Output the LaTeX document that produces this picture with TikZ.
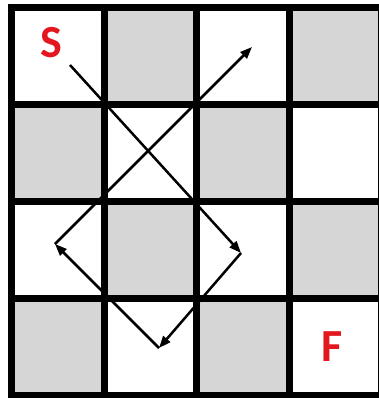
\documentclass[tikz,border=0pt]{standalone}
\usepackage{fontspec}
\setsansfont{Carlito}
\usetikzlibrary{arrows.meta}
\definecolor{cellgray}{RGB}{214,214,214}
\definecolor{markred}{RGB}{226,24,30}

\begin{document}
\begin{tikzpicture}[x=1pt, y=-1pt,
  letter/.style={text=markred, font=\sffamily\bfseries\fontsize{46}{46}\selectfont, inner sep=0pt},
  gridline/.style={line width=7pt, line cap=rect},
  move/.style={line width=2.5pt, -{Triangle[length=12pt,width=9pt]}}]
  \useasboundingbox (0,0) rectangle (378,398);
  % shaded cells
  \foreach \r in {0,...,3}
    \foreach \c in {0,...,3} {
      \pgfmathtruncatemacro{\odd}{mod(\r+\c,2)}
      \ifnum\odd=1
        \fill[cellgray] (11.5+92.6*\c, 8+96.75*\r) rectangle ++(92.6,96.75);
      \fi
    }
  % board lines
  \foreach \k in {0,...,4} {
    \draw[gridline] (11.5+92.6*\k, 8) -- (11.5+92.6*\k, 395);
    \draw[gridline] (11.5, 8+96.75*\k) -- (381.9, 8+96.75*\k);
  }
  % labels
  \node[letter] (start) at (51,43) {S};
  \node[letter] (finish) at (332,347) {F};
  % path
  \coordinate (p0) at (70,65);
  \coordinate (p1) at (241,253);
  \coordinate (p2) at (159,348);
  \coordinate (p3) at (55,244);
  \coordinate (p4) at (252,47);
  \draw[move] (p0) -- (p1);
  \draw[move] (p1) -- (p2);
  \draw[move] (p2) -- (p3);
  \draw[move] (p3) -- (p4);
\end{tikzpicture}
\end{document}
